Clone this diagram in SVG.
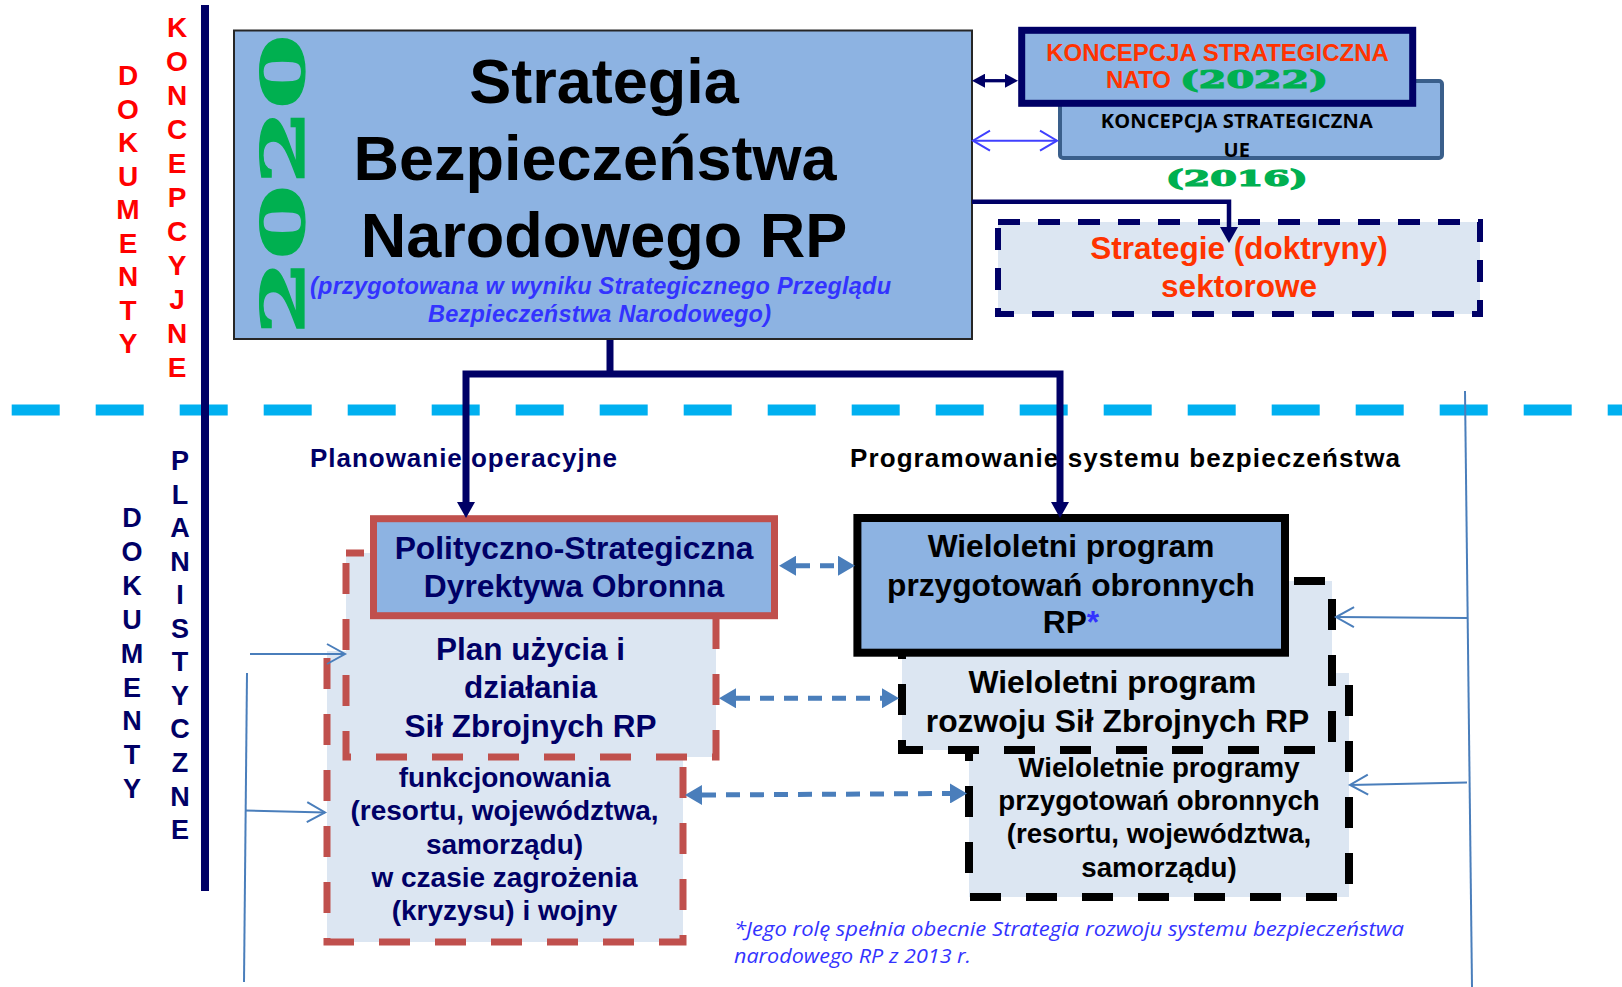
<svg xmlns="http://www.w3.org/2000/svg" width="1622" height="987" viewBox="0 0 1622 987">
<style>
  .b { font-family: 'Liberation Sans', Arial, sans-serif; font-weight: bold; }
  .mid { text-anchor: middle; }
  .navyT { fill: #000066; }
  .blk { fill: #000000; }
  .redT { fill: #FF3300; }
  .wide { font-family: 'DejaVu Serif', serif; font-weight: bold; fill: #00B050; stroke: #00B050; stroke-width: 1.2; }
  .side { font-family: 'Liberation Sans', Arial, sans-serif; font-weight: bold; text-anchor: middle; }
  .fillMain { fill: #8DB3E2; }
  .fillLight { fill: #DCE6F2; }
  .redDash { fill: none; stroke: #C0504D; stroke-width: 7; stroke-dasharray: 31 25; }
  .blkDash { fill: none; stroke: #000000; stroke-width: 8; stroke-dasharray: 31 25; }
  .navyConn { fill: none; stroke: #000066; stroke-width: 7; stroke-linejoin: miter; }
  .thin { fill: none; stroke: #4A7EBB; stroke-width: 2; }
  .bdash { fill: none; stroke: #4A7EBB; stroke-width: 5; stroke-dasharray: 14 10; }
</style>
<defs>
  <marker id="navyHead" markerUnits="userSpaceOnUse" markerWidth="16" markerHeight="18" refX="0" refY="9" orient="auto-start-reverse" viewBox="0 0 16 18">
    <path d="M0,0 L16,9 L0,18 Z" fill="#000066"/>
  </marker>
  <marker id="navySmall" markerUnits="userSpaceOnUse" markerWidth="13" markerHeight="14" refX="0" refY="7" orient="auto-start-reverse" viewBox="0 0 13 14">
    <path d="M0,0 L13,7 L0,14 Z" fill="#000066"/>
  </marker>
  <marker id="openBlue" markerUnits="userSpaceOnUse" markerWidth="20" markerHeight="24" refX="18" refY="12" orient="auto-start-reverse" viewBox="0 0 20 24" overflow="visible">
    <path d="M1,2 L18,12 L1,22" fill="none" stroke="#4040FF" stroke-width="2"/>
  </marker>
  <marker id="openSteel" markerUnits="userSpaceOnUse" markerWidth="20" markerHeight="24" refX="18" refY="12" orient="auto" viewBox="0 0 20 24" overflow="visible">
    <path d="M0,2 L18,12 L0,22" fill="none" stroke="#4A7EBB" stroke-width="2"/>
  </marker>
  <marker id="blueHead" markerUnits="userSpaceOnUse" markerWidth="17" markerHeight="20" refX="0" refY="10" orient="auto-start-reverse" viewBox="0 0 17 20">
    <path d="M0,0 L17,10 L0,20 Z" fill="#4A7EBB"/>
  </marker>
</defs>

<rect x="0" y="0" width="1622" height="987" fill="#FFFFFF"/>

<!-- divider -->
<g id="divider">
  <line x1="11.7" y1="410" x2="1622" y2="410" stroke="#00B0F0" stroke-width="11" stroke-dasharray="48 36"/>
  <line x1="205" y1="5" x2="205" y2="891" stroke="#000066" stroke-width="8"/>
</g>

<!-- side labels -->
<g id="label-koncepcyjne" class="side" font-size="28" fill="#FF0000">
  <text x="177" y="37.3">K</text><text x="177" y="71.3">O</text><text x="177" y="105.3">N</text>
  <text x="177" y="139.3">C</text><text x="177" y="173.3">E</text><text x="177" y="207.3">P</text>
  <text x="177" y="241.3">C</text><text x="177" y="275.3">Y</text><text x="177" y="309.3">J</text>
  <text x="177" y="343.3">N</text><text x="177" y="377.3">E</text>
</g>
<g id="label-dokumenty-top" class="side" font-size="28" fill="#FF0000">
  <text x="128" y="85">D</text><text x="128" y="118.5">O</text><text x="128" y="152">K</text>
  <text x="128" y="185.5">U</text><text x="128" y="219">M</text><text x="128" y="252.5">E</text>
  <text x="128" y="286">N</text><text x="128" y="319.5">T</text><text x="128" y="353">Y</text>
</g>
<g id="label-planistyczne" class="side" font-size="27" fill="#000066">
  <text x="180" y="470">P</text><text x="180" y="503.5">L</text><text x="180" y="537">A</text>
  <text x="180" y="570.6">N</text><text x="180" y="604.2">I</text><text x="180" y="637.8">S</text>
  <text x="180" y="671.3">T</text><text x="180" y="704.9">Y</text><text x="180" y="738.4">C</text>
  <text x="180" y="772">Z</text><text x="180" y="805.5">N</text><text x="180" y="839">E</text>
</g>
<g id="label-dokumenty-bottom" class="side" font-size="27" fill="#000066">
  <text x="132" y="527.3">D</text><text x="132" y="561.1">O</text><text x="132" y="595">K</text>
  <text x="132" y="628.8">U</text><text x="132" y="662.7">M</text><text x="132" y="696.5">E</text>
  <text x="132" y="730.3">N</text><text x="132" y="764.2">T</text><text x="132" y="798">Y</text>
</g>

<!-- main node -->
<g id="node-sbn">
  <rect x="234" y="30.5" width="738" height="308.5" class="fillMain" stroke="#262626" stroke-width="2"/>
  <text class="wide" font-size="60" transform="translate(304,335) rotate(-90)" textLength="301" lengthAdjust="spacingAndGlyphs">2020</text>
  <text class="b mid blk" font-size="63" x="604" y="103.3">Strategia</text>
  <text class="b mid blk" font-size="63" x="595" y="180">Bezpieczeństwa</text>
  <text class="b mid blk" font-size="63" x="604" y="256.7">Narodowego RP</text>
  <text class="b" font-style="italic" font-size="23.5" fill="#3333FF" x="310" y="294" textLength="581">(przygotowana w wyniku Strategicznego Przeglądu</text>
  <text class="b" font-style="italic" font-size="23.5" fill="#3333FF" x="428" y="321.7" textLength="343">Bezpieczeństwa Narodowego)</text>
</g>

<g id="node-ue">
  <rect x="1060" y="81" width="382" height="77" rx="3" class="fillMain" stroke="#3A5F8B" stroke-width="4"/>
  <text font-family="'Open Sans', 'Liberation Sans', sans-serif" font-weight="bold" font-size="20" fill="#000" x="1100.7" y="128.3" textLength="272">KONCEPCJA STRATEGICZNA</text>
  <text font-family="'Open Sans', 'Liberation Sans', sans-serif" font-weight="bold" font-size="20" fill="#000" x="1236.7" y="157.3" text-anchor="middle">UE</text>
  <text class="wide" font-size="22" x="1165.7" y="186" textLength="142" lengthAdjust="spacingAndGlyphs">(2016)</text>
</g>

<g id="node-nato">
  <rect x="1021.7" y="30.3" width="391" height="73" class="fillMain" stroke="#000066" stroke-width="7"/>
  <text class="b mid redT" font-size="24" x="1217.5" y="60.7">KONCEPCJA STRATEGICZNA</text>
  <text class="b redT" font-size="24" x="1106" y="88.3" textLength="65">NATO</text>
  <text class="wide" font-size="24" x="1180" y="88" textLength="148" lengthAdjust="spacingAndGlyphs">(2022)</text>
</g>

<g id="node-strategie">
  <rect x="998" y="222" width="482" height="92" class="fillLight" stroke="#000066" stroke-width="6" stroke-dasharray="22 18"/>
  <text class="b mid redT" font-size="31.5" x="1239" y="259.3">Strategie (doktryny)</text>
  <text class="b mid redT" font-size="31.5" x="1239" y="296.7">sektorowe</text>
</g>

<!-- section labels -->
<g id="label-planowanie">
  <text class="b navyT" font-size="26" x="310" y="466.7" textLength="307">Planowanie operacyjne</text>
</g>
<g id="label-programowanie">
  <text class="b blk" font-size="26" x="850" y="466.7" textLength="550">Programowanie systemu bezpieczeństwa</text>
</g>

<!-- left column -->
<g id="node-plany-funkcjonowania">
  <rect x="327" y="651" width="356" height="291" class="fillLight"/>
  <path d="M327,651 V942 H683 V651" class="redDash" stroke-dashoffset="49"/>
  <text class="b mid navyT" font-size="28" x="504.5" y="787">funkcjonowania</text>
  <text class="b mid navyT" font-size="28" x="504.5" y="820.3">(resortu, województwa,</text>
  <text class="b mid navyT" font-size="28" x="504.5" y="853.6">samorządu)</text>
  <text class="b mid navyT" font-size="28" x="504.5" y="887">w czasie zagrożenia</text>
  <text class="b mid navyT" font-size="28" x="504.5" y="920.3">(kryzysu) i wojny</text>
</g>

<g id="node-plan-uzycia">
  <rect x="346" y="553" width="370" height="204" class="fillLight"/>
  <path d="M346,553 V757 H716 V553 H346" class="redDash" stroke-dashoffset="46"/>
  <text class="b mid navyT" font-size="31.5" x="530.5" y="660">Plan użycia i</text>
  <text class="b mid navyT" font-size="31.5" x="530.5" y="698.3">działania</text>
  <text class="b mid navyT" font-size="31.5" x="530.5" y="736.7">Sił Zbrojnych RP</text>
</g>

<g id="node-psdo">
  <rect x="373.5" y="518.7" width="401" height="97" class="fillMain" stroke="#C0504D" stroke-width="7"/>
  <text class="b mid navyT" font-size="31.8" x="574" y="559.3">Polityczno-Strategiczna</text>
  <text class="b mid navyT" font-size="31.8" x="574" y="597.3">Dyrektywa Obronna</text>
</g>

<!-- right column -->
<g id="node-wppo-resortu">
  <rect x="969" y="673" width="380" height="224" class="fillLight"/>
  <rect x="969" y="673" width="380" height="224" class="blkDash"/>
  <text class="b mid blk" font-size="27.7" x="1159" y="776.7">Wieloletnie programy</text>
  <text class="b mid blk" font-size="27.7" x="1159" y="810">przygotowań obronnych</text>
  <text class="b mid blk" font-size="27.7" x="1159" y="843.3">(resortu, województwa,</text>
  <text class="b mid blk" font-size="27.7" x="1159" y="876.7">samorządu)</text>
</g>

<g id="node-wprsz">
  <rect x="902" y="581" width="430" height="169" class="fillLight"/>
  <rect x="902" y="581" width="430" height="169" class="blkDash"/>
  <text class="b mid blk" font-size="31.8" x="1112.4" y="693.3">Wieloletni program</text>
  <text class="b mid blk" font-size="31.8" x="1117.5" y="731.7">rozwoju Sił Zbrojnych RP</text>
</g>

<g id="node-wppo">
  <rect x="857.4" y="518" width="427.6" height="134.7" class="fillMain" stroke="#000000" stroke-width="8"/>
  <text class="b mid blk" font-size="31.7" x="1071" y="557.3">Wieloletni program</text>
  <text class="b mid blk" font-size="31.7" x="1071" y="595.7">przygotowań obronnych</text>
  <text class="b mid blk" font-size="31.7" x="1071" y="633.3">RP<tspan fill="#3333FF">*</tspan></text>
</g>

<!-- footnote -->
<g id="footnote">
  <text font-family="'Open Sans', 'Liberation Sans', sans-serif" font-style="italic" font-size="20" fill="#3333FF" x="734" y="936" textLength="670" lengthAdjust="spacingAndGlyphs">*Jego rolę spełnia obecnie Strategia rozwoju systemu bezpieczeństwa</text>
  <text font-family="'Open Sans', 'Liberation Sans', sans-serif" font-style="italic" font-size="20" fill="#3333FF" x="734" y="963.3" textLength="237" lengthAdjust="spacingAndGlyphs">narodowego RP z 2013 r.</text>
</g>

<!-- connectors -->
<g id="connectors">
  <path d="M985,80.7 H1005" stroke="#000066" stroke-width="3.3" fill="none" marker-start="url(#navySmall)" marker-end="url(#navySmall)"/>
  <path d="M973,140.7 H1057" stroke="#4040FF" stroke-width="2" fill="none" marker-start="url(#openBlue)" marker-end="url(#openBlue)"/>
  <path d="M972,201.7 H1229 V227" stroke="#000066" stroke-width="4.5" fill="none" marker-end="url(#navyHead)"/>
  <path d="M610,340 V374" class="navyConn"/>
  <path d="M466,502 V374 H1060 V502" class="navyConn" marker-start="url(#navyHead)" marker-end="url(#navyHead)"/>
  <path d="M796,565.7 H838" class="bdash" marker-start="url(#blueHead)" marker-end="url(#blueHead)"/>
  <path d="M736,698.3 H882" class="bdash" marker-start="url(#blueHead)" marker-end="url(#blueHead)"/>
  <path d="M702,795 L950,793.5" class="bdash" marker-start="url(#blueHead)" marker-end="url(#blueHead)"/>
  <path d="M247,673 L244,982" class="thin"/>
  <path d="M250,654 H345" class="thin" marker-end="url(#openSteel)"/>
  <path d="M245,810.5 L325,812.5" class="thin" marker-end="url(#openSteel)"/>
  <path d="M1465,391 L1472,987" class="thin"/>
  <path d="M1467,618 L1336,617" class="thin" marker-end="url(#openSteel)"/>
  <path d="M1467,782.6 L1350,785" class="thin" marker-end="url(#openSteel)"/>
</g>
</svg>
